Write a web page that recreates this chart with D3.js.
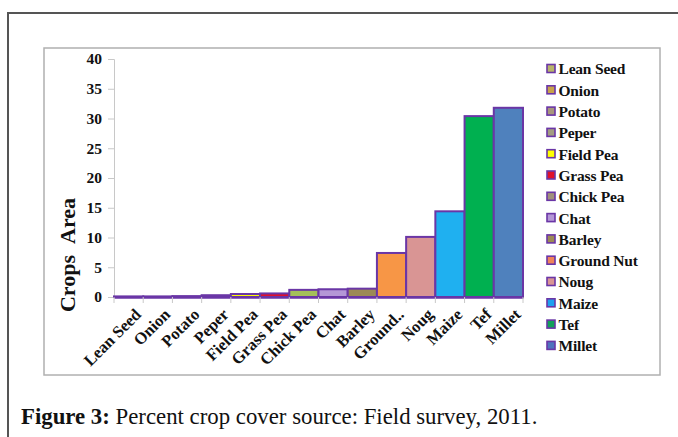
<!DOCTYPE html>
<html>
<head>
<meta charset="utf-8">
<script src="https://cdn.jsdelivr.net/npm/d3@7"></script>
<style>
  html, body { margin: 0; padding: 0; background: #fff; }
  svg { display: block; }
  text { font-family: "Liberation Serif", "Times New Roman", serif; }
</style>
</head>
<body>
<svg id="chart" width="678" height="437"></svg>
<script>
// Crop cover shares (percent of area), field survey 2011
const crops = ["Lean Seed", "Onion", "Potato", "Peper", "Field Pea", "Grass Pea", "Chick Pea",
               "Chat", "Barley", "Ground Nut", "Noug", "Maize", "Tef", "Millet"];
const axisLabels = ["Lean Seed", "Onion", "Potato", "Peper", "Field Pea", "Grass Pea", "Chick Pea",
                    "Chat", "Barley", "Ground..", "Noug", "Maize", "Tef", "Millet"];
const area = [0.1, 0.1, 0.15, 0.3, 0.5, 0.6, 1.2, 1.3, 1.4, 7.4, 10.1, 14.4, 30.4, 31.8];
const barColors = ["#b8b46a", "#c9a24a", "#a8967c", "#a39c82", "#ffff00", "#e0102a", "#a4c05a",
                   "#b497d6", "#9c8a55", "#f79646", "#d99594", "#1fb0f0", "#00b050", "#4f81bd"];
const legendColors = ["#b8b46a", "#c9a24a", "#a8967c", "#a39c82", "#ffff00", "#e0102a", "#a0907c",
                      "#b497d6", "#9c8a55", "#f0845a", "#d99594", "#1fa0f0", "#12a05a", "#4f71bd"];
const yTicks = [0, 5, 10, 15, 20, 25, 30, 35, 40];

const svg = d3.select("#chart");
const outline = "#6a36a6";

// Outer figure frame
svg.append("path")
  .attr("d", "M8,437 V13 H678")
  .attr("fill", "none").attr("stroke", "#555").attr("stroke-width", 2);

// Chart frame
svg.append("rect")
  .attr("x", 44).attr("y", 48).attr("width", 616).attr("height", 327)
  .attr("fill", "#fff").attr("stroke", "#b0b0b0").attr("stroke-width", 1.5);

const plot = { left: 114, right: 523, top: 59, bottom: 297 };

const x = d3.scaleBand().domain(crops).range([plot.left, plot.right]).padding(0);
const y = d3.scaleLinear().domain([0, 40]).range([plot.bottom, plot.top]);

// Y axis
const yAxis = svg.append("g")
  .attr("transform", `translate(${plot.left},0)`)
  .call(d3.axisLeft(y).tickValues(yTicks).tickSize(6).tickPadding(6));
yAxis.select(".domain").attr("stroke", "#c8c8c8").attr("stroke-width", 1);
yAxis.selectAll(".tick line").attr("stroke", "#c8c8c8");
yAxis.selectAll(".tick text")
  .attr("font-family", "Liberation Serif, serif")
  .attr("font-weight", "bold").attr("font-size", 15.5).attr("fill", "#111");

// Bars
svg.append("g").selectAll("rect")
  .data(crops)
  .join("rect")
  .attr("x", d => x(d))
  .attr("y", (d, i) => y(area[i]))
  .attr("width", x.bandwidth())
  .attr("height", (d, i) => y(0) - y(area[i]))
  .attr("fill", (d, i) => barColors[i])
  .attr("stroke", outline)
  .attr("stroke-width", 2);

// X axis
const xAxis = svg.append("g")
  .attr("transform", `translate(0,${plot.bottom})`)
  .call(d3.axisBottom(x).tickSize(0).tickFormat((d, i) => axisLabels[i]));
xAxis.select(".domain").attr("stroke", outline).attr("stroke-width", 2.5);
// Category boundary ticks
svg.append("g").selectAll("line")
  .data(d3.range(crops.length + 1))
  .join("line")
  .attr("x1", i => plot.left + i * x.step())
  .attr("x2", i => plot.left + i * x.step())
  .attr("y1", plot.bottom).attr("y2", plot.bottom + 6)
  .attr("stroke", "#c8c8c8");
xAxis.selectAll(".tick text")
  .attr("font-family", "Liberation Serif, serif")
  .attr("font-weight", "bold").attr("font-size", 16.5).attr("fill", "#111")
  .attr("text-anchor", "end")
  .attr("dy", null)
  .attr("transform", "translate(5,10) rotate(-45)")
  .attr("y", 0).attr("x", 0)
  .attr("dominant-baseline", "hanging");

// Y axis title
svg.append("text")
  .attr("transform", "translate(75,255) rotate(-90)")
  .attr("text-anchor", "middle")
  .attr("font-weight", "bold").attr("font-size", 22).attr("fill", "#111")
  .text("Crops\u00a0\u00a0Area");

// Legend
const legend = svg.append("g").attr("transform", "translate(547,69)");
const rows = legend.selectAll("g").data(crops).join("g")
  .attr("transform", (d, i) => `translate(0,${i * 21.3})`);
rows.append("rect")
  .attr("x", 0).attr("y", -4.5).attr("width", 8).attr("height", 8)
  .attr("fill", (d, i) => legendColors[i])
  .attr("stroke", outline).attr("stroke-width", 1.6);
rows.append("text")
  .attr("x", 11.5).attr("y", 0).attr("dy", "0.35em")
  .attr("font-weight", "bold").attr("font-size", 15.5).attr("fill", "#111")
  .attr("letter-spacing", -0.2)
  .text(d => d);

// Caption
const cap = svg.append("text").attr("x", 21).attr("y", 424)
  .attr("font-size", 22.8).attr("fill", "#111");
cap.append("tspan").attr("font-weight", "bold").text("Figure 3:");
cap.append("tspan").text(" Percent crop cover source: Field survey, 2011.");
</script>
</body>
</html>
